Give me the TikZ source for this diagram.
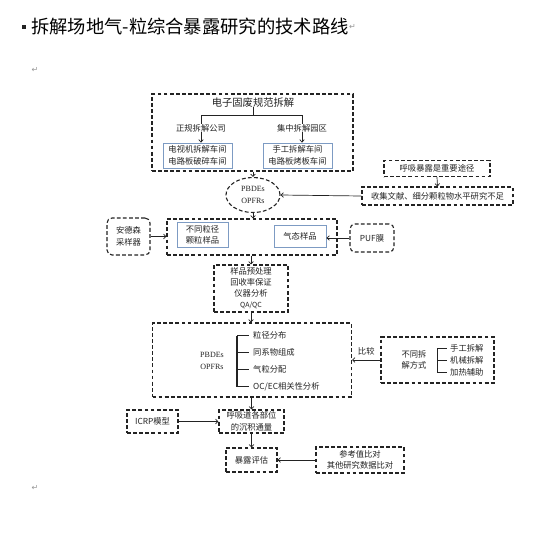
\documentclass[tikz,border=0pt]{standalone}
\usepackage{fontspec}
\setmainfont{Noto Sans CJK SC}
\newfontfamily\enserif{Liberation Serif}
\newfontfamily\dejavu{DejaVu Sans}
\usetikzlibrary{arrows.meta,shapes.geometric}
\definecolor{bluebox}{RGB}{125,155,195}
\definecolor{ink}{RGB}{35,35,35}
\definecolor{markgray}{RGB}{150,150,150}
\begin{document}
\begin{tikzpicture}[x=1pt,y=-1pt,
  every node/.style={inner sep=0pt,align=center,text=ink},
  txt/.style={font=\fontsize{8.3}{11.5}\selectfont},
  dbox/.style={draw=ink,dash pattern=on 3.8pt off 2.3pt,line width=1.1pt,txt},
  rbox/.style={dbox,rounded corners=5pt},
  wbox/.style={draw=bluebox,line width=0.9pt,txt},
  arr/.style={draw=ink,line width=0.7pt,-{Straight Barb[length=2.4pt,width=4.6pt]}},
  tree/.style={draw=ink,line width=0.7pt},
  treeb/.style={draw=ink,line width=1.2pt},
  item/.style={txt,anchor=west,inner xsep=4pt},
  retmark/.style={text=markgray,font=\dejavu\fontsize{8}{8}\selectfont}]
\useasboundingbox (0,0) rectangle (549,538);
\fill[white] (0,0) rectangle (549,538);

% title
\fill[ink] (21.5,24.5) rectangle (25.5,28.5) coordinate (bul);
\node[anchor=west,font=\fontsize{18.3}{20}\selectfont,text=black] (title) at (31,27) {拆解场地气-粒综合暴露研究的技术路线};
\node[retmark,anchor=west] (rm0) at (title.east) {↵};
\node[retmark] (rm1) at (35,70) {↵};
\node[retmark] (rm2) at (35,488) {↵};

% box 1
\node[dbox,minimum width=201pt,minimum height=77pt] (b1) at (252.5,132.5) {};
\node[font=\fontsize{10.3}{12}\selectfont] (t1) at (253,102.5) {电子固废规范拆解};
\node[txt] (c1) at (201,128) {正规拆解公司};
\node[txt] (c2) at (302,128) {集中拆解园区};
\coordinate (h1) at (201,115.5);
\coordinate (h2) at (302,115.5);
\draw[tree] (t1.south) -- (t1.south |- h1);
\draw[tree] (c1.north) -- (h1) -- (h2) -- (c2.north);
\node[wbox,minimum width=69pt,minimum height=25pt] (w1) at (197.5,155.5) {电视机拆解车间\\电路板破碎车间};
\node[wbox,minimum width=69pt,minimum height=25pt] (w2) at (297.5,155.5) {手工拆解车间\\电路板烤板车间};
\draw[arr] (c1.south) -- (c1.south |- w1.north);
\draw[arr] (c2.south) -- (c2.south |- w2.north);

% ellipse
\node[ellipse,draw=ink,dash pattern=on 3.8pt off 2.3pt,line width=1.1pt,minimum width=54pt,minimum height=35pt,font=\enserif\fontsize{8}{11.5}\selectfont] (e) at (253,195) {PBDEs\\OPFRs};
\draw[arr] (b1.south -| e.north) -- (e.north);

% right boxes
\node[dbox,minimum width=106pt,minimum height=16pt] (r1) at (437,168.5) {呼吸暴露是重要途径};
\node[dbox,minimum width=151pt,minimum height=18pt] (r2) at (437.5,196) {收集文献、细分颗粒物水平研究不足};
\draw[arr] (r1.south) -- (r2.north);
\draw[arr] (r2.west) -- (e.east);

% box 2
\node[dbox,minimum width=170pt,minimum height=36pt] (b2) at (252,237) {};
\node[wbox,minimum width=51pt,minimum height=25pt] (s1) at (202.5,235) {不同粒径\\颗粒样品};
\node[wbox,minimum width=52pt,minimum height=22pt] (s2) at (300,236) {气态样品};
\node[rbox,minimum width=43pt,minimum height=37pt] (a1) at (128.5,236.5) {安德森\\采样器};
\node[rbox,minimum width=44pt,minimum height=28pt] (p) at (372,238) {PUF膜};
\draw[arr] (e.south) -- (b2.north -| e.south);
\draw[arr] (a1.east) -- (a1.east -| b2.west);
\draw[arr] (p.west) -- (p.west -| s2.east);

% box 3
\node[dbox,minimum width=74pt,minimum height=47pt,font=\fontsize{8.3}{11}\selectfont] (b3) at (251,288.5) {样品预处理\\回收率保证\\仪器分析\\{\fontsize{7}{11}\selectfont QA/QC}};
\draw[arr] (b2.south -| b3.north) -- (b3.north);

% box 4
\node[dbox,minimum width=199pt,minimum height=74pt] (b4) at (252,360) {};
\draw[arr] (b3.south) -- (b4.north -| b3.south);
\node[font=\enserif\fontsize{8}{11.5}\selectfont] (pb) at (212,361) {PBDEs\\OPFRs};
\coordinate (v1) at (237,335.5);
\coordinate (v2) at (237,386.5);
\draw[treeb] (v1) -- (v2);
\node[item] (k1) at (249,335.5) {粒径分布};
\node[item] (k2) at (249,352.5) {同系物组成};
\node[item] (k3) at (249,369.5) {气粒分配};
\node[item] (k4) at (249,386.5) {OC/EC相关性分析};
\foreach \k in {k1,k2,k3,k4} \draw[treeb] (\k.west -| v1) -- (\k.west);

% box 5
\node[dbox,minimum width=113pt,minimum height=46pt] (b5) at (437.5,360) {};
\node[txt] (m0) at (414,360) {不同拆\\解方式};
\coordinate (u1) at (437,348);
\coordinate (u2) at (437,372);
\draw[tree] (u1) -- (u2);
\node[item,inner xsep=3pt] (m1) at (447,348) {手工拆解};
\node[item,inner xsep=3pt] (m2) at (447,360) {机械拆解};
\node[item,inner xsep=3pt] (m3) at (447,372) {加热辅助};
\foreach \k in {m1,m2,m3} \draw[tree] (\k.west -| u1) -- (\k.west);
\draw[arr] (b5.west) -- node[txt,above=4pt] (cmp) {比较} (b4.east);

% bottom
\node[dbox,minimum width=51pt,minimum height=23pt] (i) at (152.5,421.5) {ICRP模型};
\node[dbox,minimum width=65pt,minimum height=23pt] (d) at (251.5,421.5) {呼吸道各部位\\的沉积通量};
\node[dbox,minimum width=51pt,minimum height=24pt] (x) at (251.5,460) {暴露评估};
\node[dbox,minimum width=88pt,minimum height=26pt] (rf) at (360,460) {参考值比对\\其他研究数据比对};
\draw[arr] (b4.south -| d.north) -- (d.north);
\draw[arr] (i.east) -- (d.west);
\draw[arr] (d.south) -- (x.north);
\draw[arr] (rf.west) -- (x.east);
\end{tikzpicture}
\end{document}
